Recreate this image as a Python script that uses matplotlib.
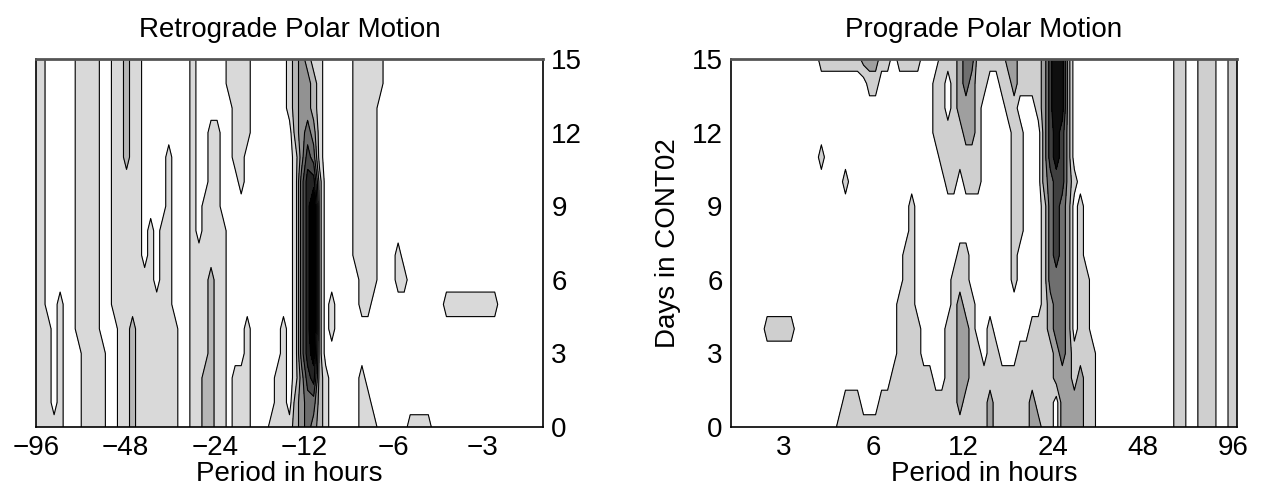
import numpy as np
import matplotlib
matplotlib.use("Agg")
import matplotlib.pyplot as plt
from matplotlib.ticker import FixedLocator, FixedFormatter, NullLocator

plt.rcParams["font.family"] = ["Liberation Sans", "DejaVu Sans"]
plt.rcParams["font.size"] = 20

# Spectral power class per (day, period) cell. One string per day, day 15 first;
# one digit per period column (85 columns, evenly spaced in log period).
retro_rows = [
    "1100000111" "1001121100" "0000001000" "0011110000" "0012321100" "0001111100" "0000000000" "0000000000" "00000",
    "1100000111" "1001121100" "0000001000" "0011110000" "0012332100" "0001111100" "0000000000" "0000000000" "00000",
    "1100000111" "1001121100" "0000001000" "0001110000" "0012332100" "0001111000" "0000000000" "0000000000" "00000",
    "1100000111" "1001121100" "0000001001" "1001110000" "0002343100" "0001111000" "0000000000" "0000000000" "00000",
    "1100000111" "1001121100" "0010001001" "1001100000" "0001354100" "0001111000" "0000000000" "0000000000" "00000",
    "1100000111" "1001111100" "0010001001" "1000100000" "0001466200" "0001111000" "0000000000" "0000000000" "00000",
    "1100000111" "1001111100" "0010001011" "1000000000" "0001468200" "0001111000" "0000000000" "0000000000" "00000",
    "1100000111" "1001111101" "0110001011" "1100000000" "0001468200" "0001111000" "0000000000" "0000000000" "00000",
    "1100000111" "1001111101" "0110001111" "1100000000" "0001468200" "0001111000" "1000000000" "0000000000" "00000",
    "1100000111" "1001111111" "0110001112" "1100000000" "0001468200" "0000111000" "1100000000" "0000000000" "00000",
    "1100100111" "1001111111" "1110001112" "1100000000" "0001468201" "0000110000" "0000000011" "1111111000" "00000",
    "1110100111" "1000112111" "1111001112" "1100010000" "0101468201" "0000000000" "0000000000" "0000000000" "00000",
    "1110100011" "1100112111" "1111001112" "1100010000" "0101467200" "0000000000" "0000000000" "0000000000" "00000",
    "1110100011" "1100112111" "1111001122" "1101110000" "1101356210" "0000100000" "0000000000" "0000000000" "00000",
    "1110100011" "1100112111" "1111001122" "1101110000" "1102344210" "0000110000" "0000000000" "0000000000" "00000",
    "1111100011" "1100112111" "1111001122" "1101110001" "1112343210" "0000111000" "0011110000" "0000000000" "00000",
]

pro_rows = [
    "0000000000" "0000011111" "1122211011" "1100011123" "3111112211" "1124652000" "0000000000" "0000110011" "10011",
    "0000000000" "0000000000" "0001100000" "0000110123" "2110011211" "1124652000" "0000000000" "0000110011" "10011",
    "0000000000" "0000000000" "0000000000" "0000110122" "2100001100" "0124652000" "0000000000" "0000110011" "10011",
    "0000000000" "0000000000" "0000000000" "0000111112" "2100000110" "0024542000" "0000000000" "0000110011" "10011",
    "0000000000" "0000010000" "0000000000" "0000011111" "1100000110" "0024542000" "0000000000" "0000110011" "10011",
    "0000000000" "0000000001" "0000000000" "0000001101" "1100000110" "0023442100" "0000000000" "0000110011" "10011",
    "0000000000" "0000000000" "0000000000" "1000000000" "0000000110" "0013432010" "0000000000" "0000110011" "10011",
    "0000000000" "0000000000" "0000000000" "1000000000" "0000000110" "0013432010" "0000000000" "0000110011" "10011",
    "0000000000" "0000000000" "0000000001" "1000000011" "0000000100" "0013432010" "0000000000" "0000110011" "10011",
    "0000000000" "0000000000" "0000000001" "1000000111" "0000000100" "0013332011" "0000000000" "0000110011" "10011",
    "0000000000" "0000000000" "0000000011" "1000000121" "1000000000" "0012332011" "0000000000" "0000110011" "10011",
    "0000001111" "1000000000" "0000000011" "1100001122" "1001000000" "1112332011" "0000000000" "0000110011" "10011",
    "0000000000" "0000000000" "0000000011" "1100001122" "1101100011" "1111232111" "1000000000" "0000110011" "10011",
    "0000000000" "0000000000" "0000000111" "1111001122" "1111111111" "1111222121" "1000000000" "0000110011" "10011",
    "0000000000" "0000000001" "1100011111" "1111111121" "1112111111" "2111022221" "1000000000" "0000110011" "10011",
    "0000000000" "0000000011" "1111111111" "1111111111" "1112111111" "2211022221" "1000000000" "0000110011" "10011",
]

days = np.arange(16)
retro_period_span = (96.3, 1.87)   # left edge, right edge (hours, shown negative)
pro_period_span = (2.0, 99.0)

retro_ticks = [96, 48, 24, 12, 6, 3]
retro_ticklabels = ["\u221296", "\u221248", "\u221224", "\u221212", "\u22126", "\u22123"]
pro_ticks = [3, 6, 12, 24, 48, 96]
pro_ticklabels = ["3", "6", "12", "24", "48", "96"]
day_ticks = [0, 3, 6, 9, 12, 15]

retro_levels = [0.5, 1.5, 2.5, 3.5, 4.5, 5.5, 6.5, 10]
retro_colors = ["#d9d9d9", "#b6b6b6", "#929292", "#6d6d6d", "#494949", "#242424", "#000000"]
pro_levels = [0.5, 1.5, 2.5, 3.5, 4.5, 10]
pro_colors = ["#cfcfcf", "#9f9f9f", "#6f6f6f", "#3f3f3f", "#0f0f0f"]


def grid_from_rows(rows):
    z = np.array([[int(c) for c in r] for r in rows], dtype=float)
    return z[::-1]  # day 0 first


def draw_panel(ax, rows, span, levels, colors, ticks, ticklabels, title):
    z = grid_from_rows(rows)
    periods = np.geomspace(span[0], span[1], z.shape[1])
    order = np.argsort(periods)
    p = periods[order]
    z = z[:, order]
    ax.contourf(p, days, z, levels=levels, colors=colors)
    ax.contour(p, days, z, levels=levels[:-1], colors="k", linewidths=0.8)
    ax.set_xscale("log")
    ax.set_xlim(span[0], span[1])
    ax.set_ylim(0, 15)
    ax.xaxis.set_major_locator(FixedLocator(ticks))
    ax.xaxis.set_major_formatter(FixedFormatter(ticklabels))
    ax.xaxis.set_minor_locator(NullLocator())
    ax.set_yticks(day_ticks)
    ax.tick_params(length=0, pad=6, labelsize=20)
    ax.set_xlabel("Period in hours", fontsize=20, labelpad=0)
    ax.set_title(title, fontsize=20, pad=16)
    for s in ax.spines.values():
        s.set_linewidth(1.2)
    ax.spines["top"].set_color("#555555")
    ax.spines["top"].set_linewidth(2)


fig = plt.figure(figsize=(12.62, 4.91), dpi=100)
ax1 = fig.add_axes([36 / 1262, 64 / 491, 507 / 1262, 368 / 491])
ax2 = fig.add_axes([731 / 1262, 64 / 491, 506 / 1262, 368 / 491])

draw_panel(ax1, retro_rows, retro_period_span, retro_levels, retro_colors,
           retro_ticks, retro_ticklabels, "Retrograde Polar Motion")
ax1.yaxis.tick_right()

draw_panel(ax2, pro_rows, pro_period_span, pro_levels, pro_colors,
           pro_ticks, pro_ticklabels, "Prograde Polar Motion")
ax2.set_ylabel("Days in CONT02", fontsize=20, labelpad=8)

fig.savefig("out.png", dpi=100)
